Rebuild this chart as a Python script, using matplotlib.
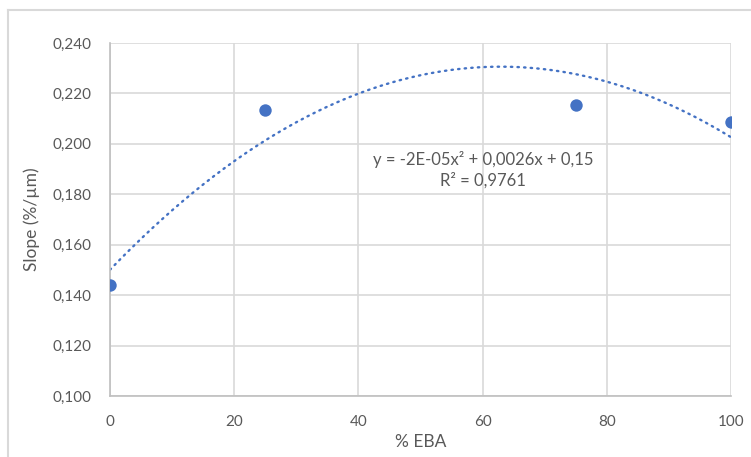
import matplotlib
import numpy as np

matplotlib.use("Agg", force=True)
import matplotlib.pyplot as plt
from matplotlib.lines import Line2D

# % EBA vs slope measurements
eba_pct = [0, 25, 75, 100]
slope = [0.144, 0.2135, 0.2155, 0.2087]

x_ticks = [0, 20, 40, 60, 80, 100]
y_ticks = [0.100, 0.120, 0.140, 0.160, 0.180, 0.200, 0.220, 0.240]

eq_text = "y = -2E-05x\u00b2 + 0,0026x + 0,15"
r2_text = "R\u00b2 = 0,9761"

blue = "#4472C4"
text_gray = "#595959"
grid_gray = "#D9D9D9"

plt.rcParams["font.family"] = ["Lato", "DejaVu Sans"]

fig = plt.figure(figsize=(7.51, 4.57), dpi=100)
ax = fig.add_axes([110 / 751, 1 - 396 / 457, (731 - 110) / 751, (396 - 43) / 457])

# second-order polynomial trendline fitted to the points
coef = np.polyfit(eba_pct, slope, 2)
xs = np.linspace(0, 100, 300)
ax.plot(xs, np.polyval(coef, xs), color=blue, lw=1.7,
        linestyle=(0, (0.6, 2.2)), dash_capstyle="round", zorder=2)
ax.scatter(eba_pct, slope, s=80, color=blue, zorder=3, linewidths=0)

ax.set_xlim(0, 100)
ax.set_ylim(0.100, 0.240)
ax.set_xticks(x_ticks)
ax.set_yticks(y_ticks)
ax.set_xticklabels([str(v) for v in x_ticks])
ax.set_yticklabels([f"{v:.3f}".replace(".", ",") for v in y_ticks])
ax.tick_params(length=0, labelsize=11, colors=text_gray)
ax.tick_params(axis="x", pad=14)
ax.tick_params(axis="y", pad=13)
ax.grid(True, color=grid_gray, lw=1.2)
ax.set_axisbelow(True)
for side in ["top", "right"]:
    ax.spines[side].set_visible(False)
for side in ["left", "bottom"]:
    ax.spines[side].set_color("#BFBFBF")
    ax.spines[side].set_linewidth(1.2)

ax.set_xlabel("% EBA", fontsize=12.5, color=text_gray, labelpad=3)
ax.set_ylabel("Slope (%/\u00b5m)", fontsize=12.5, color=text_gray, labelpad=9)

ax.text(0.601, 0.641, eq_text + "\n" + r2_text, transform=ax.transAxes,
        ha="center", va="center", fontsize=12, color=text_gray, linespacing=1.35)

# chart area border (top and left edges)
fig.add_artist(Line2D([8 / 751, 1], [1 - 10 / 457, 1 - 10 / 457],
                      color=grid_gray, lw=1.5, transform=fig.transFigure))
fig.add_artist(Line2D([8 / 751, 8 / 751], [0, 1 - 10 / 457],
                      color=grid_gray, lw=1.5, transform=fig.transFigure))

fig.savefig("out.png", dpi=100)
plt.close(fig)
